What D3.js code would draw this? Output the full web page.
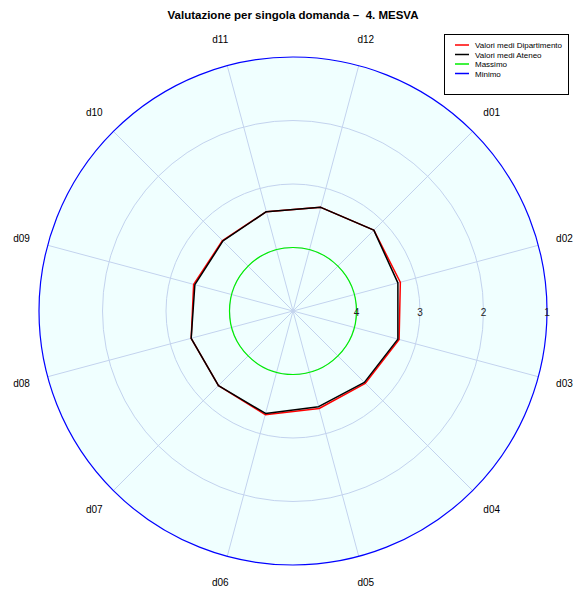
<!DOCTYPE html>
<html><head><meta charset="utf-8">
<script src="https://cdn.jsdelivr.net/npm/d3@7"></script>
<style>body{margin:0;background:#fff;} svg{display:block;font-family:"Liberation Sans",Arial,sans-serif;}</style>
</head><body>
<svg id="chart" width="576" height="594"></svg>
<script>
const questions = ["d01","d02","d03","d04","d05","d06","d07","d08","d09","d10","d11","d12"];
const dipartimento = [3.20,3.25,3.27,3.39,3.41,3.31,3.34,3.34,3.38,3.43,3.38,3.31];
const ateneo       = [3.20,3.29,3.29,3.41,3.44,3.33,3.34,3.34,3.40,3.44,3.38,3.31];
const massimo = 4;
const minimo = 1;
const gridValues = [4,3,2,1];
const legendLabels = ["Valori medi Dipartimento","Valori medi Ateneo","Massimo","Minimo"];
const legendColors = ["#ff0000","#000000","#00ee00","#0000ff"];
const title = "Valutazione per singola domanda \u2013  4. MESVA";

const svg = d3.select("#chart");
const cx = 293, cy = 311, R = 254;
const r = d3.scaleLinear().domain([5,1]).range([0,R]);
const angle = d3.scalePoint().domain(questions.concat(["_end"])).range([Math.PI/4, Math.PI/4 + 2*Math.PI]);

const g = svg.append("g").attr("transform",`translate(${cx},${cy})`);
const gridColor = "#c3d3ee";

g.append("circle").attr("r", r(1)).attr("fill","#f0ffff");
gridValues.slice(0,3).forEach(v=>{
  g.append("circle").attr("r", r(v)).attr("fill","none").attr("stroke",gridColor).attr("stroke-width",1);
});
questions.forEach(q=>{
  const a = angle(q);
  g.append("line").attr("x1",0).attr("y1",0)
    .attr("x2", r(1)*Math.sin(a)).attr("y2", -r(1)*Math.cos(a))
    .attr("stroke",gridColor).attr("stroke-width",1);
});
g.append("circle").attr("r", r(massimo)).attr("fill","none").attr("stroke","#00ee00").attr("stroke-width",1.2);
g.append("circle").attr("r", r(minimo)).attr("fill","none").attr("stroke","#0000ff").attr("stroke-width",1.2);

g.selectAll("text.ax").data(gridValues).join("text").attr("class","ax")
  .attr("x", d=>r(d)).attr("y", 5).attr("text-anchor","middle")
  .attr("font-size",10).attr("fill","#222").text(d=>d);

const line = d3.lineRadial().angle((d,i)=>angle(questions[i])).radius(d=>r(d)).curve(d3.curveLinearClosed);
g.append("path").datum(dipartimento).attr("d",line).attr("fill","none").attr("stroke","#ff0000").attr("stroke-width",1.5).attr("stroke-linejoin","round");
g.append("path").datum(ateneo).attr("d",line).attr("fill","none").attr("stroke","#000").attr("stroke-width",1.5).attr("stroke-linejoin","round");

const LR = 281;
g.selectAll("text.lab").data(questions).join("text").attr("class","lab")
  .attr("x", d=>LR*Math.sin(angle(d))).attr("y", d=>-LR*Math.cos(angle(d))+3.5)
  .attr("text-anchor","middle").attr("font-size",10).attr("fill","#000").text(d=>d);

svg.append("text").attr("x",293).attr("y",19).attr("text-anchor","middle")
  .attr("font-size",11.5).attr("font-weight","bold").style("white-space","pre").text(title);

const lg = svg.append("g").attr("transform","translate(444,34)");
lg.append("rect").attr("x",0.5).attr("y",0.5).attr("width",124).attr("height",60).attr("fill","#fff").attr("stroke","#000").attr("stroke-width",1);
legendLabels.forEach((t,i)=>{
  const y = 11 + i*9.5;
  lg.append("line").attr("x1",11).attr("x2",25).attr("y1",y).attr("y2",y).attr("stroke",legendColors[i]).attr("stroke-width",1.5);
  lg.append("text").attr("x",31).attr("y",y+3).attr("font-size",8).text(t);
});
</script>
</body></html>
